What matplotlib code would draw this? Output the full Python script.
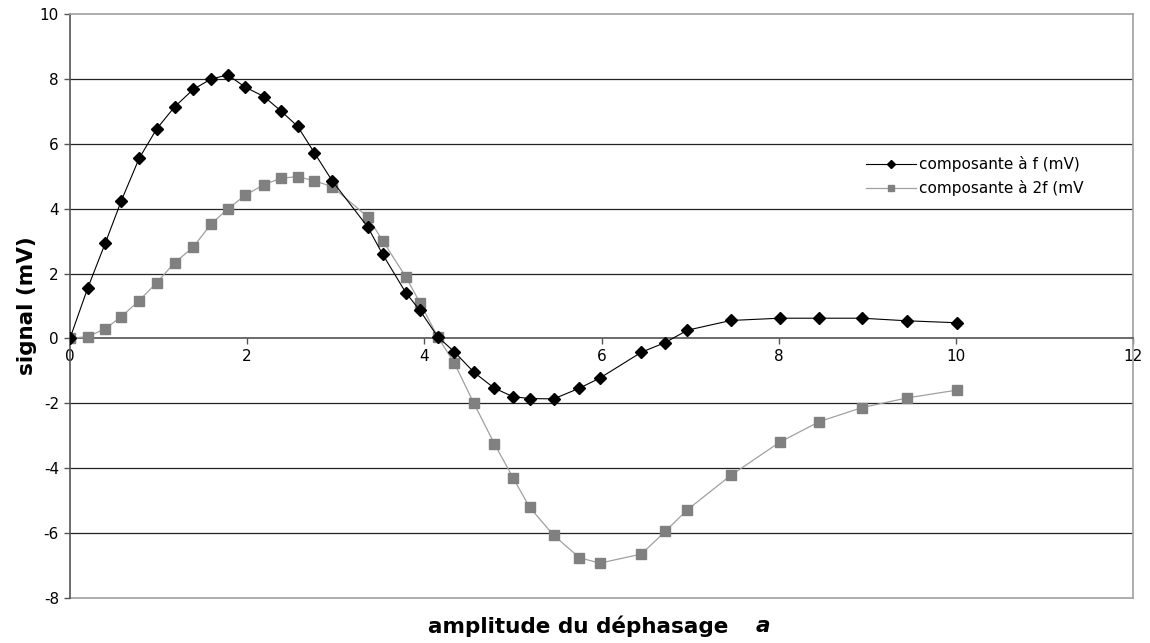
import matplotlib
matplotlib.use("Agg")
import matplotlib.pyplot as plt

plt.rcParams["axes.unicode_minus"] = False

# amplitude du déphasage a (same abscissae for both series)
a = [0, 0.2, 0.4, 0.58, 0.78, 0.98, 1.18, 1.39, 1.59, 1.78, 1.98, 2.19, 2.38,
     2.57, 2.76, 2.96, 3.36, 3.53, 3.79, 3.95, 4.15, 4.34, 4.56, 4.79, 5.0,
     5.19, 5.46, 5.75, 5.98, 6.45, 6.72, 6.97, 7.46, 8.01, 8.46, 8.94, 9.45,
     10.01]

comp_f = [0, 1.55, 2.95, 4.25, 5.55, 6.47, 7.14, 7.68, 8.0, 8.13, 7.75, 7.46,
          7.02, 6.54, 5.72, 4.86, 3.44, 2.59, 1.41, 0.86, 0.05, -0.42, -1.05,
          -1.54, -1.80, -1.86, -1.87, -1.54, -1.23, -0.43, -0.13, 0.25, 0.55,
          0.62, 0.62, 0.62, 0.54, 0.48]

comp_2f = [0, 0.05, 0.30, 0.67, 1.16, 1.72, 2.33, 2.81, 3.52, 3.99, 4.42, 4.74,
           4.94, 4.99, 4.86, 4.68, 3.75, 3.01, 1.90, 1.10, 0.05, -0.77, -2.01,
           -3.25, -4.30, -5.22, -6.08, -6.77, -6.94, -6.66, -5.96, -5.29,
           -4.23, -3.21, -2.57, -2.14, -1.84, -1.60]

labels = ["composante à f (mV)", "composante à 2f (mV"]

fig = plt.figure(figsize=(11.5, 6.43), dpi=100)
ax = fig.add_axes([70 / 1150, 1 - 597.5 / 643, 1063 / 1150, 583.2 / 643])

ax.set_xlim(0, 12)
ax.set_ylim(-8, 10)

# horizontal grid (Excel style)
for yv in [-6, -4, -2, 2, 4, 6, 8]:
    ax.axhline(yv, color="#222222", lw=0.9, zorder=1)
ax.axhline(-8, color="#a0a0a0", lw=1.2, zorder=1, clip_on=False)

ax.plot(a, comp_f, color="black", lw=0.8, marker="D", ms=6.3,
        mfc="black", mec="black", label=labels[0], zorder=4)
ax.plot(a, comp_2f, color="#a0a0a0", lw=0.9, marker="s", ms=7.8,
        mfc="#808080", mec="#808080", label=labels[1], zorder=3)

for s in ["top", "right"]:
    ax.spines[s].set_color("#a0a0a0")
    ax.spines[s].set_linewidth(1.2)
ax.spines["left"].set_color("#555555")
ax.spines["left"].set_linewidth(1.2)
ax.spines["bottom"].set_position(("data", 0))
ax.spines["bottom"].set_color("#444444")
ax.spines["bottom"].set_linewidth(1.1)

ax.set_xticks(range(0, 13, 2))
ax.set_yticks(range(-8, 11, 2))
ax.tick_params(axis="both", labelsize=11, length=4, width=1, color="#555555")
ax.tick_params(axis="x", pad=4)
ax.tick_params(axis="y", pad=4)

ax.set_ylabel("signal (mV)", fontsize=15.5, fontweight="bold")
ax.yaxis.set_label_coords(-0.031, 0.5)

fig.text(428 / 1150, 1 - 626 / 643, "amplitude du déphasage", fontsize=15.5,
         fontweight="bold", ha="left", va="center")
fig.text(756 / 1150, 1 - 626 / 643, "a", fontsize=15.5, fontweight="bold",
         style="italic", ha="left", va="center")

ax.legend(loc="upper left", bbox_to_anchor=(866 / 1150, 1 - 156 / 643),
          bbox_transform=fig.transFigure, frameon=False, fontsize=11,
          handlelength=3.3, handletextpad=0.2, labelspacing=0.55,
          borderpad=0, borderaxespad=0, markerscale=0.6)

plt.savefig("out.png", dpi=100)
